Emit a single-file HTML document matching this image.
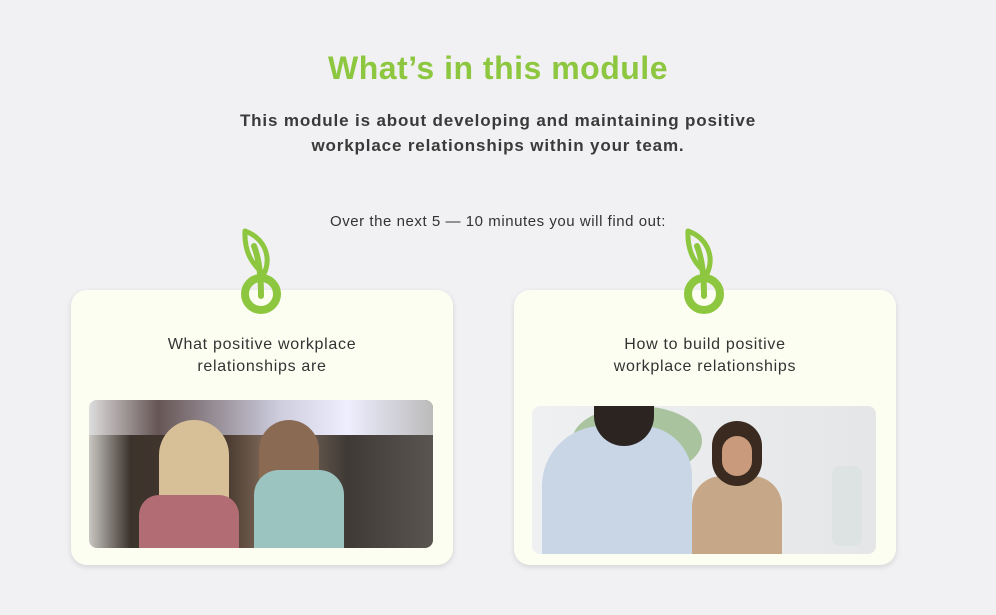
<!DOCTYPE html>
<html><head><style>
body{margin:0;width:996px;height:615px;background:#f1f1f3;position:relative;overflow:hidden;font-family:"Liberation Sans",sans-serif;}
.t{position:absolute;left:0;width:996px;text-align:center}
.card{position:absolute;top:290px;width:382px;height:275px;background:#fdfef2;border-radius:16px;box-shadow:0 2px 6px rgba(0,0,0,0.12)}
.card p{position:absolute;top:44px;left:0;width:100%;text-align:center;margin:0;font-size:16px;line-height:22px;color:#333;letter-spacing:0.7px}
.ph{position:absolute;left:18px;width:344px;height:148px;border-radius:8px;overflow:hidden}
svg.ic{position:absolute;top:226px;width:50px;height:92px}
</style></head><body>
<div class="t" style="top:50px;font-size:32px;font-weight:bold;color:#8dc63f;letter-spacing:0.5px">What’s in this module</div>
<div class="t" style="top:108px;font-size:17px;font-weight:bold;color:#3a3a3a;line-height:25px;letter-spacing:0.85px">This module is about developing and maintaining positive<br>workplace relationships within your team.</div>
<div class="t" style="top:213px;font-size:15px;color:#333;letter-spacing:0.55px">Over the next 5 — 10 minutes you will find out:</div>

<div class="card" style="left:71px"><p>What positive workplace<br>relationships are</p>
<div class="ph" style="top:110px;background:linear-gradient(90deg,#c9c7c2 0%,#3c332c 12%,#4a3a30 40%,#8b7664 55%,#3f3a36 75%,#5a5550 100%)">
<div style="position:absolute;left:0;top:0;width:100%;height:35px;background:linear-gradient(90deg,#ddd,#655 20%,#ccd 55%,#eef 75%,#bbb)"></div>
<div style="position:absolute;left:70px;top:20px;width:70px;height:128px;background:#d7c098;border-radius:35px 35px 0 0"></div>
<div style="position:absolute;left:50px;top:95px;width:100px;height:60px;background:#b26d74;border-radius:20px 20px 0 0"></div>
<div style="position:absolute;left:170px;top:20px;width:60px;height:80px;background:#8a6a52;border-radius:30px 30px 10px 10px"></div>
<div style="position:absolute;left:165px;top:70px;width:90px;height:80px;background:#9bc4c1;border-radius:25px 25px 0 0"></div>
</div></div>

<div class="card" style="left:514px"><p>How to build positive<br>workplace relationships</p>
<div class="ph" style="top:116px;background:linear-gradient(90deg,#eef0f2,#e4e6e8)">
<div style="position:absolute;left:40px;top:0;width:130px;height:70px;background:#7fa86a;border-radius:50%;opacity:.6"></div>
<div style="position:absolute;left:10px;top:20px;width:150px;height:128px;background:#c9d6e6;border-radius:60px 50px 0 0"></div>
<div style="position:absolute;left:62px;top:0;width:60px;height:40px;background:#2c2420;border-radius:0 0 30px 30px"></div>
<div style="position:absolute;left:160px;top:70px;width:90px;height:80px;background:#c6a888;border-radius:30px 30px 0 0"></div>
<div style="position:absolute;left:180px;top:15px;width:50px;height:65px;background:#3a2a20;border-radius:25px"></div>
<div style="position:absolute;left:190px;top:30px;width:30px;height:40px;background:#c99a7c;border-radius:15px"></div>
<div style="position:absolute;left:300px;top:60px;width:30px;height:80px;background:#dde3e2;border-radius:8px"></div>
</div></div>

<svg class="ic" style="left:236px" viewBox="0 0 50 92"><path d="M9 5 C28 12 36 30 28 48 C18 40 8 28 9 5Z" fill="none" stroke="#8dc63f" stroke-width="5" stroke-linejoin="round"/><path d="M18 20 C22 30 25 45 25 70" fill="none" stroke="#8dc63f" stroke-width="6" stroke-linecap="round"/><circle cx="25" cy="68" r="16" fill="none" stroke="#8dc63f" stroke-width="8"/></svg>
<svg class="ic" style="left:679px" viewBox="0 0 50 92"><path d="M9 5 C28 12 36 30 28 48 C18 40 8 28 9 5Z" fill="none" stroke="#8dc63f" stroke-width="5" stroke-linejoin="round"/><path d="M18 20 C22 30 25 45 25 70" fill="none" stroke="#8dc63f" stroke-width="6" stroke-linecap="round"/><circle cx="25" cy="68" r="16" fill="none" stroke="#8dc63f" stroke-width="8"/></svg>
</body></html>
